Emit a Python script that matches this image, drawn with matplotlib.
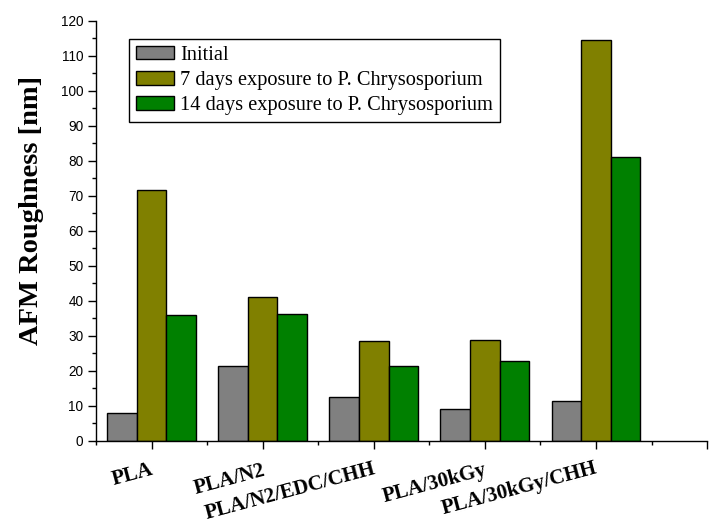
import numpy as np
import matplotlib
matplotlib.use("Agg")
import matplotlib.pyplot as plt
from matplotlib.ticker import MultipleLocator

# données
samples = ["PLA", "PLA/N2", "PLA/N2/EDC/CHH", "PLA/30kGy", "PLA/30kGy/CHH"]
series = ["Initial",
          "7 days exposure to P. Chrysosporium",
          "14 days exposure to P. Chrysosporium"]
initial = [7.8, 21.4, 12.4, 9.0, 11.3]
days7 = [71.5, 41.0, 28.6, 28.9, 114.4]
days14 = [36.0, 36.1, 21.2, 22.9, 81.1]
colors = ["#808080", "#808000", "#008000"]

# position des étiquettes (décalage en x, hauteur en fraction d'axe)
label_dx = [-0.17, -0.30, -0.75, -0.45, -0.69]
label_y = [-0.082, -0.092, -0.120, -0.103, -0.115]

fig = plt.figure(figsize=(7.12, 5.26), dpi=100)
ax = fig.add_axes([0.1348, 0.1622, 0.8583, 0.7984])

x = np.arange(1, len(samples) + 1)
width = 0.8 / 3
for i, (vals, c, lab) in enumerate(zip([initial, days7, days14], colors, series)):
    ax.bar(x + (i - 1) * width, vals, width, color=c, edgecolor="black",
           linewidth=1.0, label=lab, zorder=2)

ax.set_xlim(0.5, 6.0)
ax.set_ylim(0, 120)
ax.spines["top"].set_visible(False)
ax.spines["right"].set_visible(False)
ax.spines["left"].set_linewidth(1.0)
ax.spines["bottom"].set_linewidth(1.0)

ax.xaxis.set_major_locator(MultipleLocator(1))
ax.xaxis.set_minor_locator(MultipleLocator(0.5))
ax.yaxis.set_major_locator(MultipleLocator(10))
ax.yaxis.set_minor_locator(MultipleLocator(5))
ax.tick_params(axis="both", which="major", direction="out", length=6, width=1.0)
ax.tick_params(axis="both", which="minor", direction="out", length=3, width=1.0)
ax.tick_params(axis="x", labelbottom=False)
for t in ax.get_yticklabels():
    t.set_fontfamily("Liberation Sans")
    t.set_fontsize(9.8)
ax.tick_params(axis="y", pad=3)

# étiquettes de l'axe x, inclinées et décalées comme dans l'original
for xi, name, dx, yy in zip(x, samples, label_dx, label_y):
    ax.text(xi + dx, yy, name, transform=ax.get_xaxis_transform(),
            rotation=15, rotation_mode="anchor", ha="center", va="center",
            fontsize=15, fontweight="bold", fontfamily="Liberation Serif",
            clip_on=False)

fig.text(32 / 712, 1 - 210 / 526, "AFM Roughness [nm]", rotation=90,
         ha="center", va="center", fontsize=20.5, fontweight="bold",
         fontfamily="Liberation Serif")

leg = ax.legend(loc="upper left", bbox_to_anchor=(129 / 712, 1 - 38.5 / 526),
                bbox_transform=fig.transFigure, borderaxespad=0,
                prop={"family": "Liberation Serif", "size": 14.7},
                handlelength=1.86, handleheight=0.66, handletextpad=0.3,
                labelspacing=0.3, borderpad=0.35, fancybox=False,
                framealpha=1, edgecolor="black")
leg.get_frame().set_linewidth(1.0)

fig.savefig("out.png", dpi=100)
